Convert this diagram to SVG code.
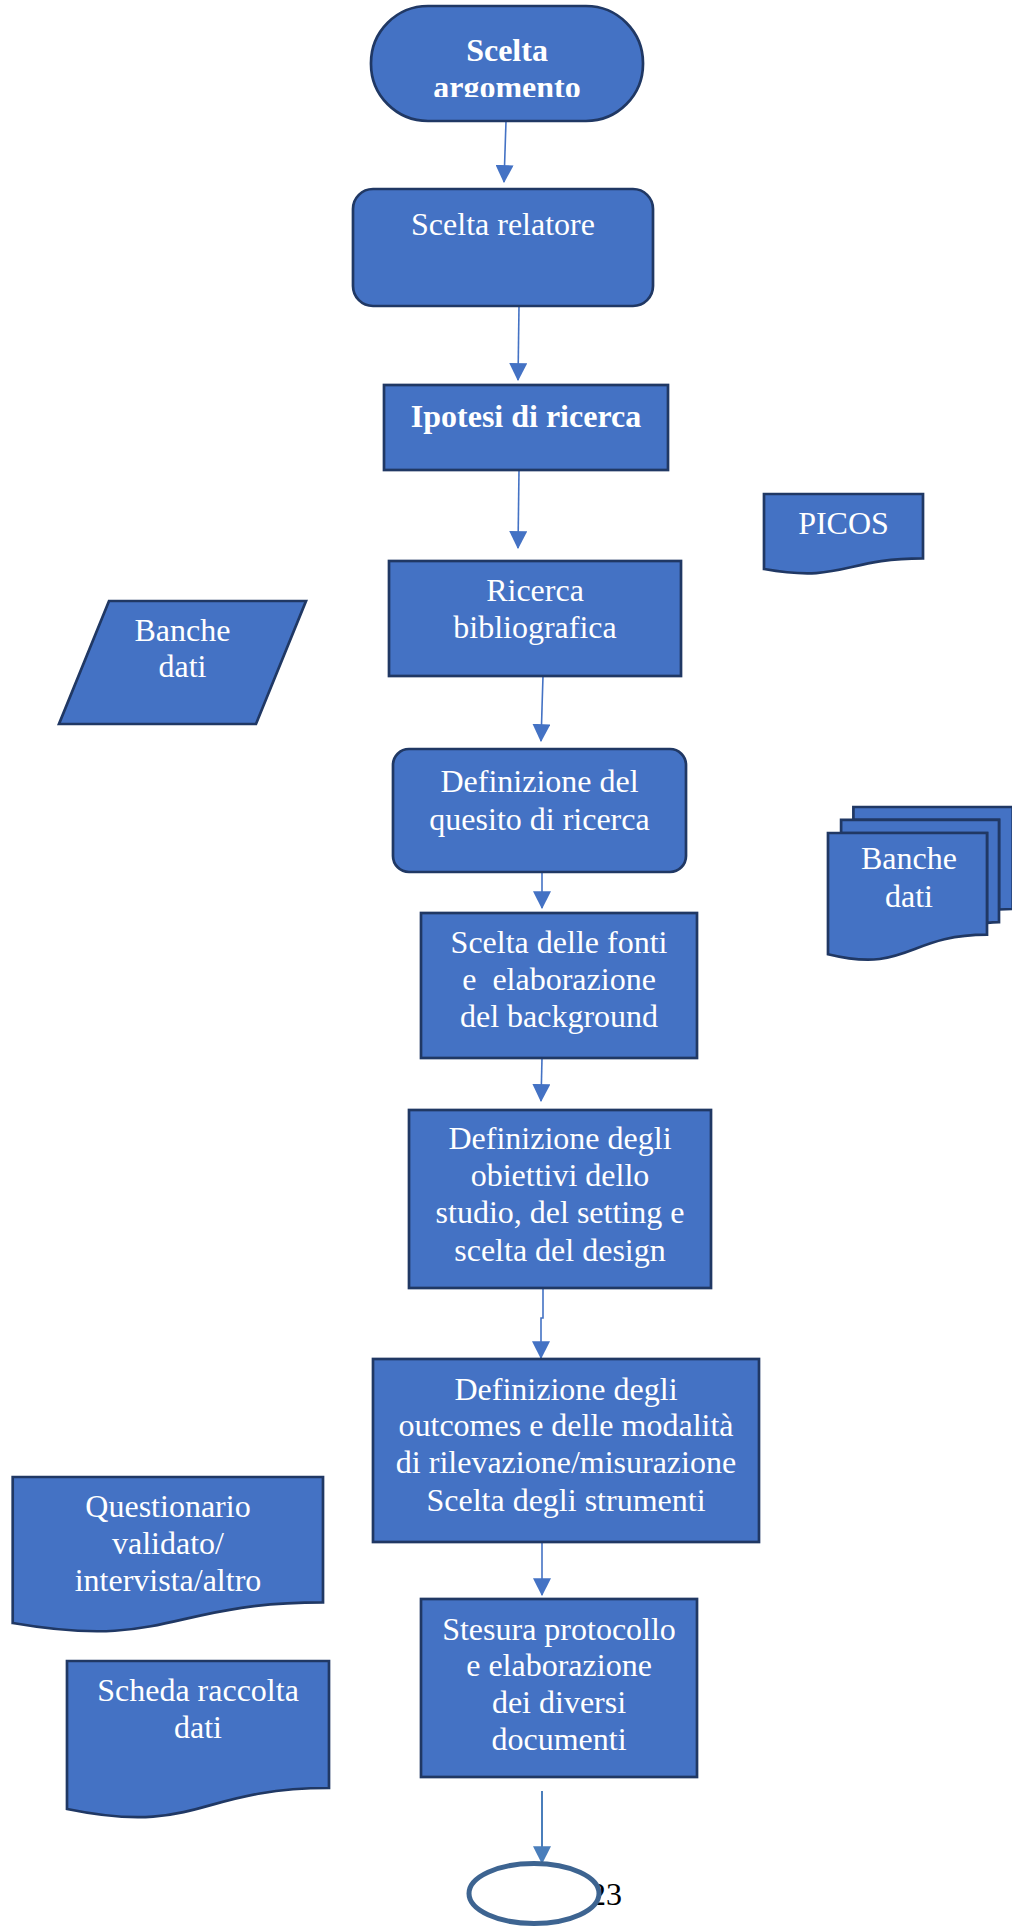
<svg xmlns="http://www.w3.org/2000/svg" width="1012" height="1932" viewBox="0 0 1012 1932">
<style>
.n{fill:#4472C4;stroke:#203864;stroke-width:2.7}
.t{font-family:"Liberation Serif","Times New Roman",serif;font-size:32px;fill:#FFFFFF;text-anchor:middle}
.b{font-weight:bold}
.c{fill:none;stroke:#4472C4;stroke-width:1.6}
</style>
<defs>
<marker id="ah" markerUnits="userSpaceOnUse" markerWidth="18" markerHeight="18" viewBox="0 0 16 16" refX="15" refY="8" orient="auto">
<path d="M0,0 L16,8 L0,16 Z" fill="#4472C4"/>
</marker>
<marker id="ah2" markerUnits="userSpaceOnUse" markerWidth="18" markerHeight="18" viewBox="0 0 16 16" refX="15" refY="8" orient="auto">
<path d="M0,0 L16,8 L0,16 Z" fill="#4A7EBB"/>
</marker>
<clipPath id="clipT"><rect x="360" y="0" width="300" height="97"/></clipPath>
</defs>

<g id="connectors">
<path class="c" d="M506,121 L504,182" marker-end="url(#ah)"/>
<path class="c" d="M519,306 L518,380" marker-end="url(#ah)"/>
<path class="c" d="M519,470 L518,548" marker-end="url(#ah)"/>
<path class="c" d="M543,676 L541,741" marker-end="url(#ah)"/>
<path class="c" d="M542,872 L542,908" marker-end="url(#ah)"/>
<path class="c" d="M542,1058 L541,1101" marker-end="url(#ah)"/>
<path class="c" d="M543,1288 L543,1318 L541,1318 L541,1358" marker-end="url(#ah)"/>
<path class="c" d="M542,1542 L542,1595" marker-end="url(#ah)"/>
<path d="M542,1791 L542,1863" fill="none" stroke="#4A7EBB" stroke-width="2" marker-end="url(#ah2)"/>
</g>

<g id="start">
<rect class="n" x="371" y="6" width="272" height="115" rx="57" ry="57"/>
<g clip-path="url(#clipT)">
<text class="t b" x="507" y="61">Scelta</text>
<text class="t b" x="507" y="98">argomento</text>
</g>
</g>

<g id="relatore">
<rect class="n" x="353" y="189" width="300" height="117" rx="20" ry="20"/>
<text class="t" x="503" y="235">Scelta relatore</text>
</g>

<g id="ipotesi">
<rect class="n" x="384" y="385" width="284" height="85"/>
<text class="t b" x="526" y="427">Ipotesi di ricerca</text>
</g>

<g id="picos">
<path class="n" d="M764,494 L923,494 L923,558.4 C843.5,558.4 843.5,583 764,569 Z"/>
<text class="t" x="843.5" y="534">PICOS</text>
</g>

<g id="ricerca">
<rect class="n" x="389" y="561" width="292" height="115"/>
<text class="t" x="535" y="601">Ricerca</text>
<text class="t" x="535" y="638">bibliografica</text>
</g>

<g id="banche-dati-1">
<path class="n" d="M109,601 L306,601 L256,724 L59,724 Z"/>
<text class="t" x="182.5" y="641">Banche</text>
<text class="t" x="182.5" y="677">dati</text>
</g>

<g id="quesito">
<rect class="n" x="393" y="749" width="293" height="123" rx="16" ry="16"/>
<text class="t" x="539.5" y="792">Definizione del</text>
<text class="t" x="539.5" y="830">quesito di ricerca</text>
</g>

<g id="banche-dati-2">
<path class="n" d="M853.4,819.9 L853.4,807 L1012.7,807 L1012.7,909 C1005.9,909 999,909.5 999,909.5 L999,819.9 Z"/>
<path class="n" d="M841.1,833 L841.1,819.9 L999,819.9 L999,922.1 C993,922.1 987,922.8 987,922.8 L987,833 Z"/>
<path class="n" d="M828,954.2 C907.5,973.8 907.5,934.7 987,934.7 L987,833 L828,833 Z"/>
<text class="t" x="909" y="869">Banche</text>
<text class="t" x="909" y="907">dati</text>
</g>

<g id="fonti">
<rect class="n" x="421" y="913" width="276" height="145"/>
<text class="t" x="559" y="953">Scelta delle fonti</text>
<text class="t" x="559" y="990" style="white-space:pre">e  elaborazione</text>
<text class="t" x="559" y="1027">del background</text>
</g>

<g id="obiettivi">
<rect class="n" x="409" y="1110" width="302" height="178"/>
<text class="t" x="560" y="1149">Definizione degli</text>
<text class="t" x="560" y="1186">obiettivi dello</text>
<text class="t" x="560" y="1223">studio, del setting e</text>
<text class="t" x="560" y="1261">scelta del design</text>
</g>

<g id="outcomes">
<rect class="n" x="373" y="1359" width="386" height="183"/>
<text class="t" x="566" y="1400">Definizione degli</text>
<text class="t" x="566" y="1436">outcomes e delle modalità</text>
<text class="t" x="566" y="1473">di rilevazione/misurazione</text>
<text class="t" x="566" y="1511">Scelta degli strumenti</text>
</g>

<g id="questionario">
<path class="n" d="M12.7,1477 L323,1477 L323,1602.4 C168,1602.4 168,1650 12.7,1623 Z"/>
<text class="t" x="168" y="1517">Questionario</text>
<text class="t" x="168" y="1554">validato/</text>
<text class="t" x="168" y="1591">intervista/altro</text>
</g>

<g id="protocollo">
<rect class="n" x="421" y="1599" width="276" height="178"/>
<text class="t" x="559" y="1640">Stesura protocollo</text>
<text class="t" x="559" y="1676">e elaborazione</text>
<text class="t" x="559" y="1713">dei diversi</text>
<text class="t" x="559" y="1750">documenti</text>
</g>

<g id="scheda">
<path class="n" d="M67,1661 L329,1661 L329,1788 C198,1788 198,1836 67,1809 Z"/>
<text class="t" x="198" y="1701">Scheda raccolta</text>
<text class="t" x="198" y="1738">dati</text>
</g>

<g id="end">
<text x="590" y="1905" font-family="Liberation Serif, Times New Roman, serif" font-size="32" fill="#000000">23</text>
<ellipse cx="534" cy="1893.5" rx="65" ry="30" fill="#FFFFFF" stroke="#3D6491" stroke-width="5"/>
</g>
</svg>
